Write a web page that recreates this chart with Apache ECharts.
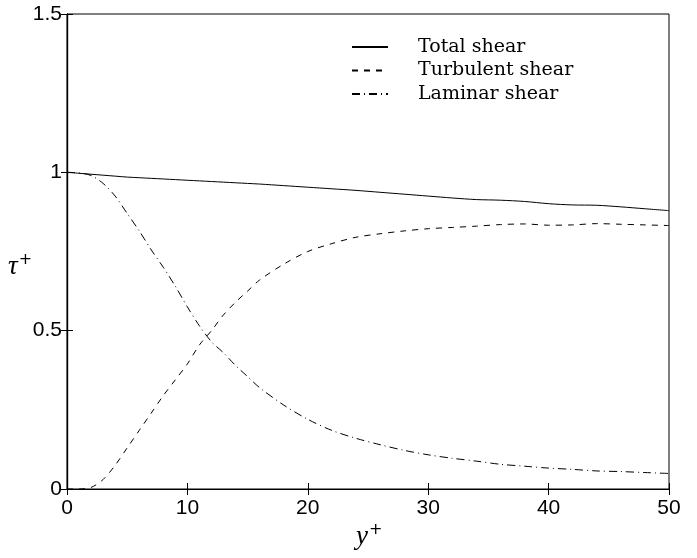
<!DOCTYPE html>
<html>
<head>
<meta charset="utf-8">
<script src="https://cdn.jsdelivr.net/npm/echarts@6/dist/echarts.min.js"></script>
<style>
  html, body { margin: 0; padding: 0; background: #fff; }
  #chart { width: 697px; height: 558px; }
</style>
</head>
<body>
<div id="chart"></div>
<script>
// y+ positions
var yPlus = [0, 1, 2, 3, 4, 5, 6, 7, 8, 9, 10, 11, 12, 13, 14, 15, 16, 18, 20, 22, 24, 26, 28, 30, 32, 34, 36, 38, 40, 42, 44, 46, 48, 50];
// shear stress curves (tau+)
var totalShear = [1.0, 0.997, 0.994, 0.991, 0.988, 0.985, 0.983, 0.981, 0.979, 0.977, 0.975, 0.973, 0.971, 0.969, 0.967, 0.965, 0.963, 0.958, 0.953, 0.948, 0.943, 0.937, 0.931, 0.925, 0.919, 0.914, 0.912, 0.908, 0.901, 0.897, 0.896, 0.891, 0.885, 0.879];
var turbShear = [0, 0, 0.005, 0.03, 0.075, 0.13, 0.185, 0.24, 0.295, 0.345, 0.395, 0.455, 0.5, 0.55, 0.59, 0.625, 0.66, 0.71, 0.75, 0.775, 0.795, 0.806, 0.815, 0.822, 0.826, 0.83, 0.835, 0.837, 0.833, 0.834, 0.838, 0.836, 0.834, 0.832];
var lamShear = [1.0, 0.998, 0.99, 0.965, 0.925, 0.87, 0.815, 0.755, 0.7, 0.64, 0.575, 0.515, 0.465, 0.43, 0.39, 0.355, 0.32, 0.265, 0.22, 0.185, 0.16, 0.14, 0.122, 0.108, 0.097, 0.088, 0.078, 0.072, 0.066, 0.062, 0.057, 0.055, 0.052, 0.049];
var names = ['Total shear', 'Turbulent shear', 'Laminar shear'];

function pairs(ys) {
  return yPlus.map(function (x, i) { return [x, ys[i]]; });
}

var chart = echarts.init(document.getElementById('chart'));

var tickFont = { fontFamily: 'Liberation Sans', fontSize: 21, color: '#000' };
var titleRich = {
  i: { fontFamily: 'Liberation Serif', fontStyle: 'italic', fontSize: 27, color: '#000' },
  s: { fontFamily: 'DejaVu Sans', fontSize: 16, color: '#000', verticalAlign: 'top', padding: [0, 0, 14, 1] }
};
var innerTick = { show: true, inside: true, length: 6, lineStyle: { color: '#000', width: 1 } };

chart.setOption({
  animation: false,
  backgroundColor: '#fff',
  grid: { left: 67, right: 28, top: 14, bottom: 69, show: true, borderColor: '#000', borderWidth: 1 },
  legend: {
    data: names,
    orient: 'vertical',
    left: 346,
    top: 32,
    itemWidth: 36,
    itemHeight: 10,
    itemGap: 3.5,
    itemStyle: { color: 'transparent', borderWidth: 0 },
    textStyle: { fontFamily: 'DejaVu Serif', fontSize: 19, color: '#000', padding: [0, 0, 0, 25], lineHeight: 20 }
  },
  graphic: [{
    type: 'text', left: 356, top: 522,
    style: { text: '{i|y}{s|+}', rich: titleRich }
  }, {
    type: 'text', left: 8, top: 252,
    style: { text: '{i|τ}{s|+}', rich: titleRich }
  }],
  xAxis: [{
    type: 'value', min: 0, max: 50, interval: 10,
    axisLine: { lineStyle: { color: '#000', width: 1.2 } },
    axisTick: innerTick,
    axisLabel: Object.assign({ margin: 9 }, tickFont),
    splitLine: { show: false }
  }, {
    type: 'value', min: 0, max: 50, interval: 10, position: 'top',
    axisLine: { lineStyle: { color: '#000', width: 1.2 } },
    axisTick: innerTick,
    axisLabel: { show: false },
    splitLine: { show: false }
  }],
  yAxis: [{
    type: 'value', min: 0, max: 1.5, interval: 0.5,
    axisLine: { show: true, lineStyle: { color: '#000', width: 1.2 } },
    axisTick: innerTick,
    axisLabel: Object.assign({ margin: 5 }, tickFont),
    splitLine: { show: false }
  }, {
    type: 'value', min: 0, max: 1.5, interval: 0.5, position: 'right',
    axisLine: { show: true, lineStyle: { color: '#000', width: 1.2 } },
    axisTick: innerTick,
    axisLabel: { show: false },
    splitLine: { show: false }
  }],
  series: [{
    name: names[0], type: 'line', data: pairs(totalShear),
    showSymbol: false, symbol: 'none', smooth: 0.3,
    lineStyle: { color: '#000', width: 1, type: 'solid' },
    itemStyle: { color: '#000' }
  }, {
    name: names[1], type: 'line', data: pairs(turbShear),
    showSymbol: false, symbol: 'none', smooth: 0.3,
    lineStyle: { color: '#000', width: 1, type: [6, 6] },
    itemStyle: { color: '#000' }
  }, {
    name: names[2], type: 'line', data: pairs(lamShear),
    showSymbol: false, symbol: 'none', smooth: 0.3,
    lineStyle: { color: '#000', width: 1, type: [8, 4, 1, 4] },
    itemStyle: { color: '#000' }
  }]
});
</script>
</body>
</html>
